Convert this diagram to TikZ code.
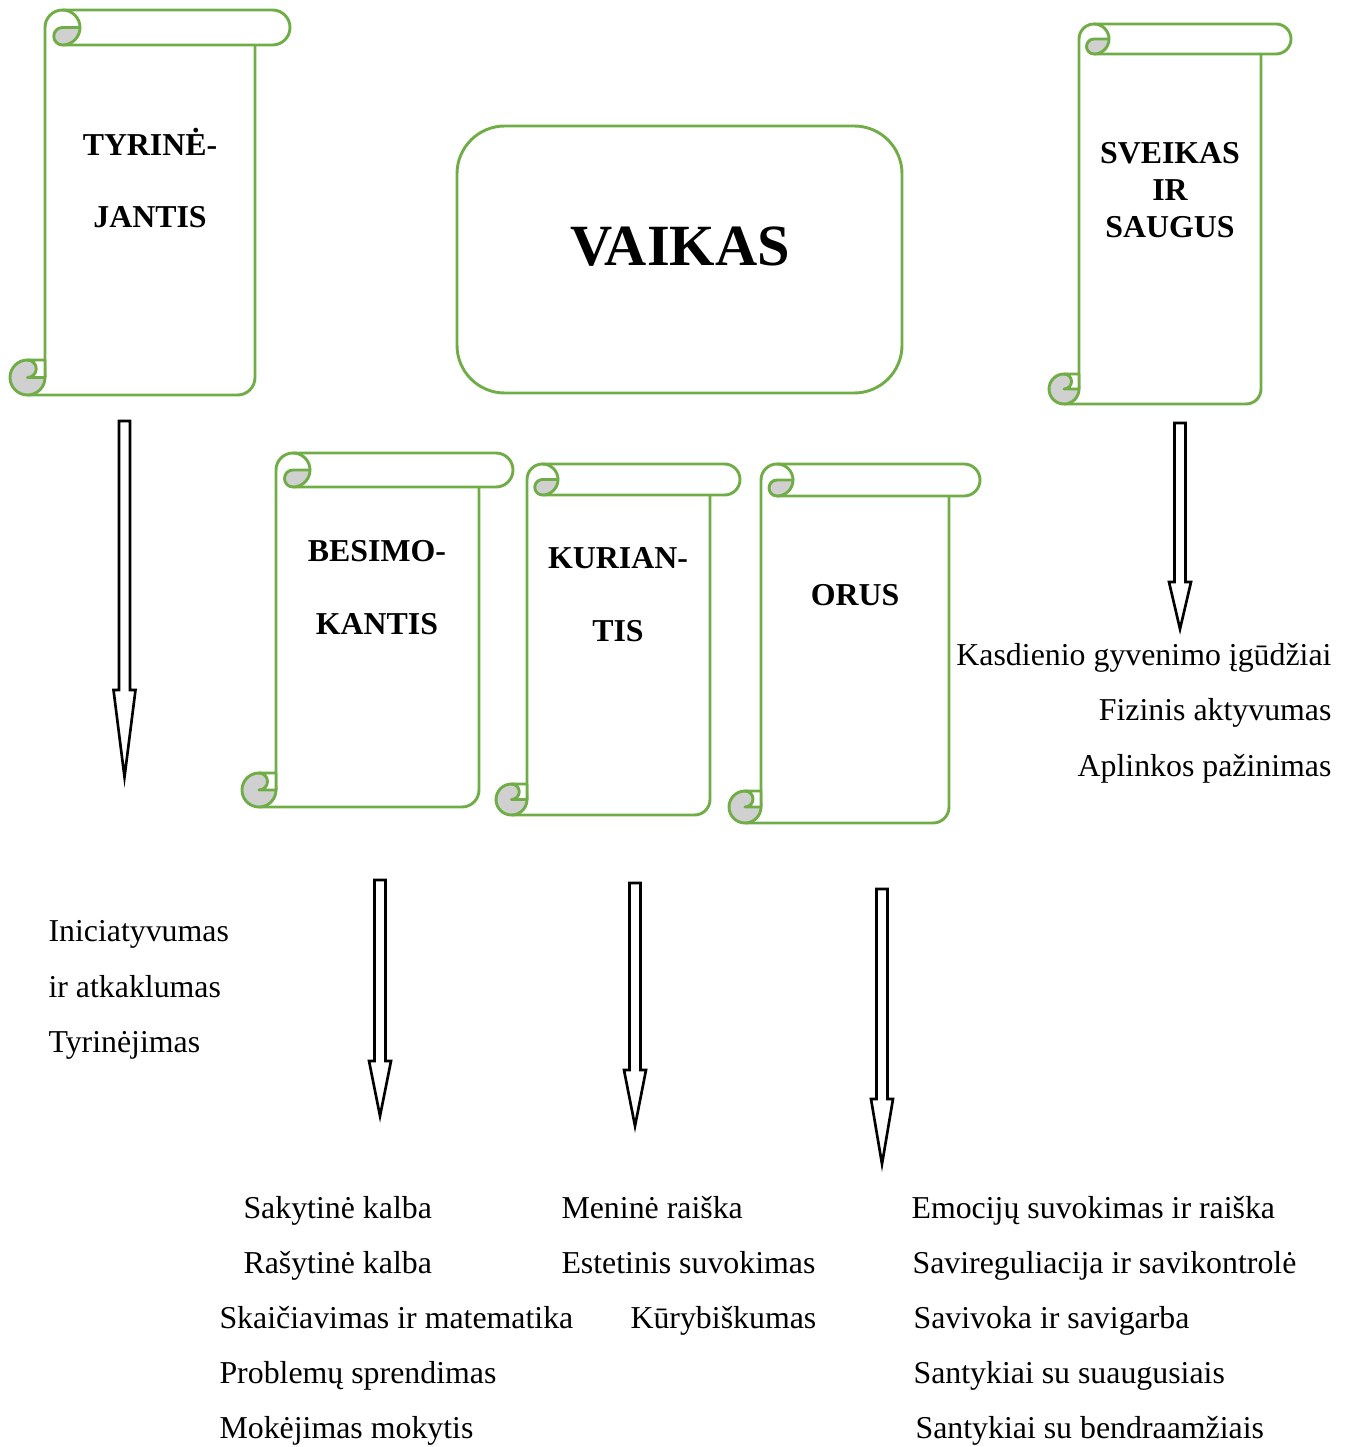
\documentclass[tikz,border=0pt]{standalone}
\usepackage{fontspec}
\setmainfont{Liberation Serif}
\usetikzlibrary{calc}
\definecolor{scrollgreen}{RGB}{112,173,71}
\definecolor{curlgray}{RGB}{208,208,208}
\tikzset{
  scrollline/.style={draw=scrollgreen, line width=1.1pt, line join=round},
  arrowline/.style={draw=black, line width=1pt, fill=white},
  item/.style={inner sep=0pt, font=\fontsize{12}{14}\selectfont},
  title/.style={inner sep=0pt, font=\fontsize{12}{14}\selectfont\bfseries},
}
% scroll: left, top, roll end, sheet right, bottom, curl radius
\def\vscroll(#1:#2:#3:#4:#5:#6){
  \draw[scrollline] (#1,{#5-#6}) -- (#1,{#2+#6}) arc[start angle=180, end angle=270, radius=#6] -- ({#3-#6},#2) arc[start angle=270, end angle=450, radius=#6] -- ({#1+#6},{#2+2*#6});
  \draw[scrollline] (#4,{#2+2*#6}) -- (#4,{#5-#6}) arc[start angle=0, end angle=90, radius=#6] -- ({#1-#6},#5);
  \draw[scrollline, fill=curlgray] ({#1+#6},{#2+2*#6}) arc[start angle=90, end angle=270, radius=#6/2] -- ({#1+2*#6},{#2+#6}) arc[start angle=0, end angle=90, radius=#6] -- cycle;
  \draw[scrollline] ({#1+#6},#2) arc[start angle=270, end angle=360, radius=#6];
  \draw[scrollline, fill=curlgray] ({#1-#6},{#5-#6}) circle[radius=#6];
  \draw[scrollline, fill=white] ({#1-#6},{#5-2*#6}) -- (#1,{#5-2*#6}) -- (#1,{#5-#6}) -- ({#1-#6},{#5-#6}) arc[start angle=90, end angle=-90, radius=#6/2] -- cycle;
}
% block arrow: centre x, top, head, tip
\def\blockarrow(#1:#2:#3:#4){
  \draw[arrowline] ({#1-5.5},#2) -- ({#1+5.5},#2) -- ({#1+5.5},#3) -- ({#1+11},#3) -- (#1,{#4-9}) -- ({#1-11},#3) -- ({#1-5.5},#3) -- cycle;
}

\begin{document}
\begin{tikzpicture}[x=0.3768pt, y=-0.3768pt]
	%%%%% START %%%%%
	\useasboundingbox (0,0) rectangle (1354,1447);
	
	\vscroll(45:10:290:255:395:17.5)
	\vscroll(1079:24:1291:1261:404:15)
	\vscroll(276:453:513:479:807:17)
	\vscroll(527:464:740:710:815:15.5)
	\vscroll(761:464:980:949:823:16)
	
	\draw[scrollline, rounded corners=18pt] (457,126) rectangle (902,393);
	\node[inner sep=0pt, font=\fontsize{22}{26}\selectfont\bfseries, anchor=base] (vaikas) at (680,266) {VAIKAS};
	
	\node[title, anchor=base] (tyr1) at (150,156) {TYRINĖ-};
	\node[title, anchor=base] (tyr2) at (150,228) {JANTIS};
	\node[title, anchor=base] (sve1) at (1170,164) {SVEIKAS};
	\node[title, anchor=base] (sve2) at (1170,201) {IR};
	\node[title, anchor=base] (sve3) at (1170,238) {SAUGUS};
	\node[title, anchor=base] (bes1) at (377,561) {BESIMO-};
	\node[title, anchor=base] (bes2) at (377,634) {KANTIS};
	\node[title, anchor=base] (kur1) at (618,568) {KURIAN-};
	\node[title, anchor=base] (kur2) at (618,641) {TIS};
	\node[title, anchor=base] (orus) at (855,605) {ORUS};
	
	\blockarrow(124.5:421:690:786)
	\blockarrow(1180:423:582:638)
	\blockarrow(380:880:1061:1125)
	\blockarrow(635:883:1070:1135)
	\blockarrow(882:889:1099:1173)
	
	% sveikas ir saugus
	\node[item, anchor=base east] (sv1) at (1332,665) {Kasdienio gyvenimo įgūdžiai};
	\node[item, anchor=base east] (sv2) at (1332,720) {Fizinis aktyvumas};
	\node[item, anchor=base east] (sv3) at (1332,776) {Aplinkos pažinimas};
	
	% tyrinejantis
	\node[item, anchor=base west] (ty1) at (48,941) {Iniciatyvumas};
	\node[item, anchor=base west] (ty2) at (48,997) {ir atkaklumas};
	\node[item, anchor=base west] (ty3) at (48,1052) {Tyrinėjimas};
	
	% besimokantis
	\node[item, anchor=base west] (be1) at (243,1218) {Sakytinė kalba};
	\node[item, anchor=base west] (be2) at (243,1273) {Rašytinė kalba};
	\node[item, anchor=base west] (be3) at (219,1328) {Skaičiavimas ir matematika};
	\node[item, anchor=base west] (be4) at (219,1383) {Problemų sprendimas};
	\node[item, anchor=base west] (be5) at (219,1438) {Mokėjimas mokytis};
	
	% kuriantis
	\node[item, anchor=base west] (ku1) at (561,1218) {Meninė raiška};
	\node[item, anchor=base west] (ku2) at (561,1273) {Estetinis suvokimas};
	\node[item, anchor=base west] (ku3) at (630,1328) {Kūrybiškumas};
	
	% orus
	\node[item, anchor=base west] (or1) at (911,1218) {Emocijų suvokimas ir raiška};
	\node[item, anchor=base west] (or2) at (912,1273) {Savireguliacija ir savikontrolė};
	\node[item, anchor=base west] (or3) at (913,1328) {Savivoka ir savigarba};
	\node[item, anchor=base west] (or4) at (913,1383) {Santykiai su suaugusiais};
	\node[item, anchor=base west] (or5) at (915,1438) {Santykiai su bendraamžiais};
	
	%%%%% END %%%%%
\end{tikzpicture}
\end{document}
